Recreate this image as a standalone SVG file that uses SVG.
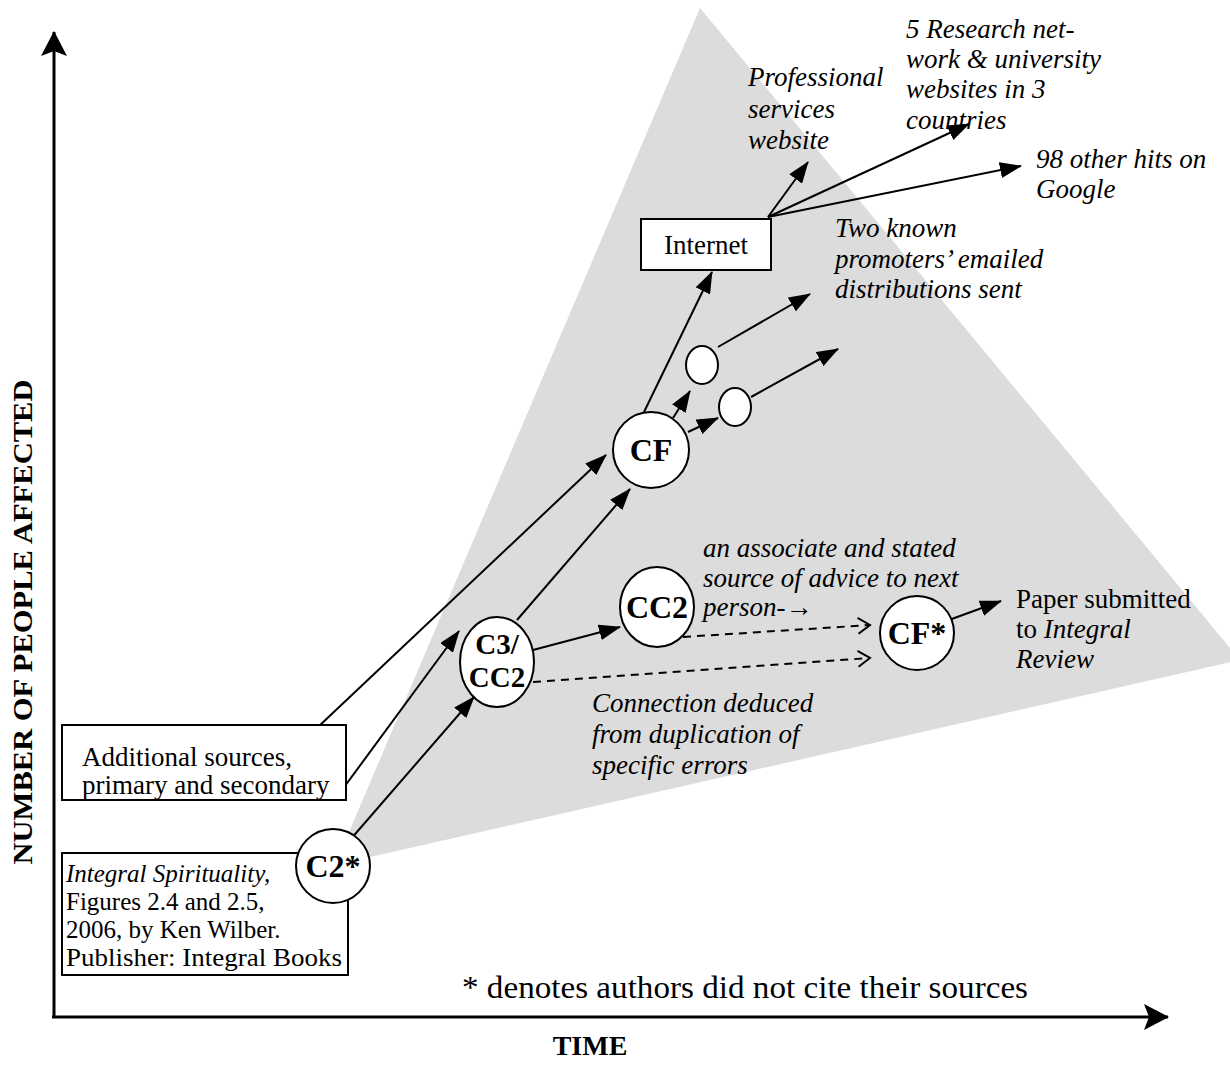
<svg xmlns="http://www.w3.org/2000/svg" width="1230" height="1067" viewBox="0 0 1230 1067">
<style>
text{font-family:"Liberation Serif","Times New Roman",serif;fill:#000}
.it{font-style:italic;font-size:27px}
.rg{font-size:27px}
.bx{font-size:25px}
.nd{font-weight:bold;font-size:32px;text-anchor:middle}
.nd2{font-weight:bold;font-size:29px;text-anchor:middle}
.box{fill:#fff;stroke:#000;stroke-width:2}
.nc{fill:#fff;stroke:#000;stroke-width:2}
.ln{stroke:#000;stroke-width:2;fill:none;marker-end:url(#ah)}
.dl{stroke:#000;stroke-width:2;fill:none;stroke-dasharray:8,6;marker-end:url(#oh)}
.ax{stroke:#000;stroke-width:3;fill:none}
</style>
<defs>
<marker id="ah" markerWidth="22" markerHeight="16" refX="21" refY="8" orient="auto" markerUnits="userSpaceOnUse"><path d="M0,0 L22,8 L0,16 z" fill="#000"/></marker>
<marker id="oh" markerWidth="16" markerHeight="20" refX="14" refY="10" orient="auto" markerUnits="userSpaceOnUse"><path d="M2,2 L14,10 L2,18" fill="none" stroke="#000" stroke-width="2"/></marker>
<marker id="axh" markerWidth="26" markerHeight="26" refX="24" refY="13" orient="auto" markerUnits="userSpaceOnUse"><path d="M0,0 L25,13 L0,26 L5,13 z" fill="#000"/></marker>
</defs>
<polygon id="cone" points="700,8 1240,660 335,865" fill="#dcdcdc"/>
<g id="axes">
<line class="ax" x1="54" y1="1017" x2="54" y2="32" marker-end="url(#axh)"/>
<line class="ax" x1="52" y1="1017" x2="1168" y2="1017" marker-end="url(#axh)"/>
<text x="22" y="622" transform="rotate(-90 22 622)" text-anchor="middle" dominant-baseline="central" font-weight="bold" font-size="28" textLength="485" lengthAdjust="spacingAndGlyphs">NUMBER OF PEOPLE AFFECTED</text>
<text x="590" y="1055" text-anchor="middle" font-weight="bold" font-size="28">TIME</text>
<text x="462" y="998" font-size="32" textLength="566" lengthAdjust="spacingAndGlyphs">* denotes authors did not cite their sources</text>
</g>
<g id="connectors">
<line class="ln" x1="318" y1="727" x2="606" y2="455"/>
<line class="ln" x1="342" y1="790" x2="459" y2="631"/>
<line class="ln" x1="350" y1="840" x2="474" y2="697"/>
<line class="ln" x1="517" y1="620" x2="630" y2="489"/>
<line class="ln" x1="533" y1="650" x2="620" y2="627"/>
<line class="ln" x1="644" y1="412" x2="712" y2="272"/>
<line class="ln" x1="673" y1="418" x2="690" y2="391"/>
<line class="ln" x1="688" y1="432" x2="718" y2="418"/>
<line class="ln" x1="718" y1="347" x2="810" y2="294"/>
<line class="ln" x1="751" y1="397" x2="838" y2="349"/>
<line class="ln" x1="768" y1="217" x2="808" y2="162"/>
<line class="ln" x1="768" y1="217" x2="969" y2="124"/>
<line class="ln" x1="768" y1="217" x2="1021" y2="166"/>
<line class="ln" x1="949" y1="620" x2="1001" y2="601"/>
<line class="dl" x1="683" y1="637" x2="870" y2="625"/>
<line class="dl" x1="533" y1="682" x2="870" y2="658"/>
</g>
<g id="n-additional">
<rect class="box" x="62" y="725" width="284" height="75"/>
<text class="rg" x="82" y="766">Additional sources,</text>
<text class="rg" x="82" y="794">primary and secondary</text>
</g>
<g id="n-integral">
<rect class="box" x="62" y="853" width="286" height="122"/>
<text class="bx" x="66" y="882"><tspan font-style="italic">Integral Spirituality,</tspan></text>
<text class="bx" x="66" y="910">Figures 2.4 and 2.5,</text>
<text class="bx" x="66" y="938">2006, by Ken Wilber.</text>
<text class="bx" x="66" y="966" textLength="276" lengthAdjust="spacingAndGlyphs">Publisher: Integral Books</text>
</g>
<g id="n-c2">
<circle class="nc" cx="333" cy="866" r="37"/>
<text class="nd" x="333" y="877">C2*</text>
</g>
<g id="n-c3cc2">
<ellipse class="nc" cx="497" cy="662" rx="37" ry="45"/>
<text class="nd2" x="497" y="654">C3/</text>
<text class="nd2" x="497" y="687">CC2</text>
</g>
<g id="n-cf">
<circle class="nc" cx="651" cy="450" r="38"/>
<text class="nd" x="651" y="461">CF</text>
</g>
<g id="n-cc2">
<ellipse class="nc" cx="657" cy="607" rx="37" ry="40"/>
<text class="nd" x="657" y="618">CC2</text>
</g>
<g id="n-cfstar">
<circle class="nc" cx="917" cy="633" r="37"/>
<text class="nd" x="917" y="644">CF*</text>
</g>
<g id="n-s1"><ellipse class="nc" cx="702" cy="365" rx="16" ry="19"/></g>
<g id="n-s2"><ellipse class="nc" cx="735" cy="407" rx="16" ry="19"/></g>
<g id="n-internet">
<rect class="box" x="641" y="219" width="130" height="51"/>
<text class="rg" x="706" y="254" text-anchor="middle">Internet</text>
</g>
<g id="labels">
<text class="it" x="748" y="86">Professional</text>
<text class="it" x="748" y="118">services</text>
<text class="it" x="748" y="149">website</text>
<text class="it" x="906" y="38">5 Research net-</text>
<text class="it" x="906" y="68">work &amp; university</text>
<text class="it" x="906" y="98">websites in 3</text>
<text class="it" x="906" y="129">countries</text>
<text class="it" x="1036" y="168">98 other hits on</text>
<text class="it" x="1036" y="198">Google</text>
<text class="it" x="835" y="237">Two known</text>
<text class="it" x="835" y="268">promoters’ emailed</text>
<text class="it" x="835" y="298">distributions sent</text>
<text class="it" x="703" y="557">an associate and stated</text>
<text class="it" x="703" y="587">source of advice to next</text>
<text class="it" x="703" y="616">person-<tspan font-style="normal">→</tspan></text>
<text class="it" x="592" y="712">Connection deduced</text>
<text class="it" x="592" y="743">from duplication of</text>
<text class="it" x="592" y="774">specific errors</text>
<text class="rg" x="1016" y="608">Paper submitted</text>
<text class="rg" x="1016" y="638">to <tspan font-style="italic">Integral</tspan></text>
<text class="rg" x="1016" y="668" font-style="italic">Review</text>
</g>
</svg>
